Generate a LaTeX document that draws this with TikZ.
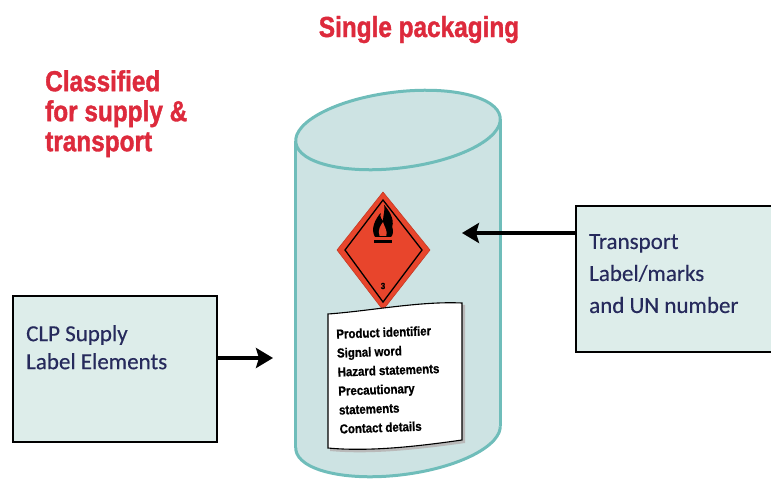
\documentclass[tikz,border=0pt]{standalone}
\usepackage{fontspec}
\usetikzlibrary{arrows.meta}
\newfontfamily\condbold[FakeStretch=0.84,FakeBold=1.3]{Liberation Sans}
\newfontfamily\labelfont[FakeStretch=0.88,FakeBold=0.8]{Liberation Sans}
\newfontfamily\boxfont[FakeBold=0.3]{Carlito}
\definecolor{canfill}{HTML}{CDE3E3}
\definecolor{canline}{HTML}{6FBDBA}
\definecolor{boxfill}{HTML}{DDEDEA}
\definecolor{titlered}{HTML}{DD2A3C}
\definecolor{boxtext}{HTML}{262A5C}
\definecolor{placard}{HTML}{E8452C}
\tikzset{
  title/.style={text=titlered, inner sep=0pt, align=left,
    font=\condbold\bfseries\fontsize{29}{30}\selectfont},
  infobox/.style={draw=black, line width=1.8pt, fill=boxfill, inner sep=0pt},
  boxtxt/.style={text=boxtext, inner sep=0pt, align=left},
  canedge/.style={draw=canline, line width=3pt},
  bigarrow/.style={line width=4pt, -{Stealth[length=17pt,width=20pt,inset=3pt]}},
}
\begin{document}
\begin{tikzpicture}[x=1pt,y=-1pt]
\useasboundingbox (0,0) rectangle (771,479);
\clip (0,0) rectangle (771,479);

% headings
\node[title, anchor=base] (single) at (419,37) {Single packaging};
\node[title, anchor=north west] (classified) at (45,70) {Classified\\for supply \&\\transport};

% the can: bottom ellipse, body, sides, top ellipse
\draw[canedge, fill=canfill, rotate around={7:(398,437)}]
  (398,437) ellipse [x radius=103pt, y radius=38pt];
\fill[canfill] (295.7,140.8) -- (295.7,447.8) -- (500.3,426.2) -- (500.3,119.2) -- cycle;
\draw[canedge] (295.7,140.8) -- (295.7,447.8);
\draw[canedge] (500.3,119.2) -- (500.3,426.2);
\draw[canedge, fill=canfill, rotate around={7:(398,130)}]
  (398,130) ellipse [x radius=103pt, y radius=38pt];

% flammable-liquid placard
\filldraw[fill=placard, draw=placard!85!black, line width=0.6pt]
  (383,192) -- (430,250) -- (383,310) -- (337,250) -- cycle;
\draw[black, line width=1.3pt] (383,200) -- (422,250) -- (383,302) -- (345,250) -- cycle;
\begin{scope}[shift={(383,222)}, scale=1.15]
  \fill[black] (-7,13) .. controls (-11,6) and (-7,-2) .. (-2,-8)
    .. controls (-3,-4) and (-1,-2) .. (0,-1)
    .. controls (0,-6) and (2,-10) .. (1,-15)
    .. controls (6,-9) and (10,-2) .. (8,4)
    .. controls (9,8) and (9,11) .. (7,13) -- cycle;
  \fill[placard] (-3,12) .. controls (-5,7) and (-2,3) .. (0,0)
    .. controls (1,4) and (4,7) .. (3,12) -- cycle;
\end{scope}
\fill[black] (374,240) rectangle (392,243);
\node[inner sep=0pt, font=\labelfont\bfseries\fontsize{9}{9}\selectfont] (classno) at (383,286) {3};

% CLP label sheet
\fill[gray!55] (330,316) .. controls (372,313) and (422,303) .. (465,305)
  -- (465,443) .. controls (422,449) and (372,455) .. (330,451) -- cycle;
\filldraw[fill=white, draw=black, line width=1.1pt]
  (328,314) .. controls (370,311) and (420,301) .. (462,303)
  -- (462,440) .. controls (420,446) and (370,452) .. (328,448) -- cycle;
\node[inner sep=0pt, anchor=north west, align=left, rotate=2,
      font=\labelfont\bfseries\fontsize{13}{19}\selectfont] (sheet) at (336,329)
  {Product identifier\\Signal word\\Hazard statements\\Precautionary\\statements\\Contact details};

% side boxes
\node[infobox, minimum width=204pt, minimum height=146pt] (clp) at (115,369) {};
\node[boxtxt, anchor=north west, font=\boxfont\fontsize{23}{28}\selectfont] (clptxt) at (26,325)
  {CLP Supply\\Label Elements};
\node[infobox, minimum width=204pt, minimum height=146pt] (transport) at (678,279) {};
\node[boxtxt, anchor=north west, font=\boxfont\fontsize{23}{32}\selectfont] (transporttxt) at (589,234)
  {Transport\\Label/marks\\and UN number};

% connectors
\coordinate (clpend) at (273,358);
\coordinate (transportend) at (462,233);
\draw[bigarrow] (clp.east |- clpend) -- (clpend);
\draw[bigarrow] (transport.west |- transportend) -- (transportend);
\end{tikzpicture}
\end{document}
